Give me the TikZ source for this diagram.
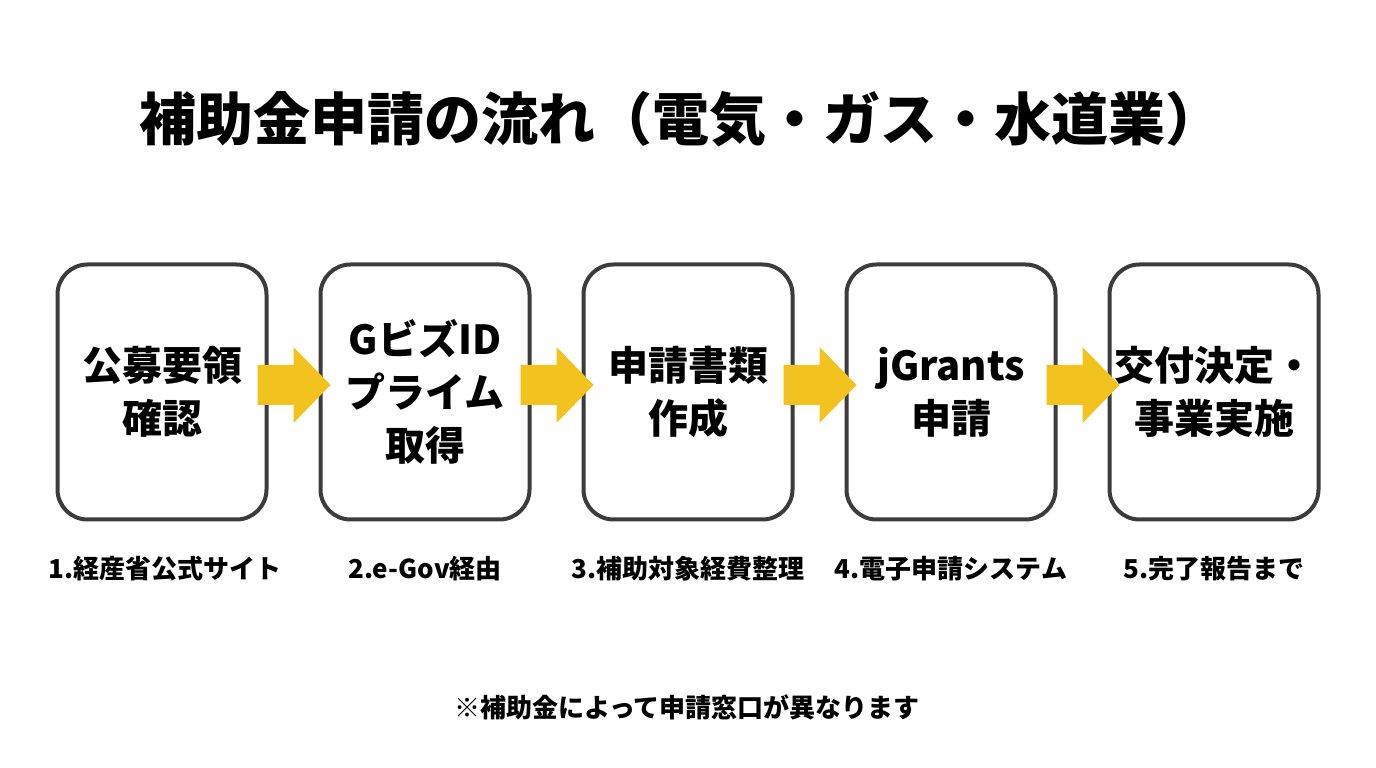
\documentclass[tikz,border=0pt]{standalone}
\usepackage{fontspec}
\setmainfont{Noto Sans CJK JP}
\usepackage{tikz}
\usetikzlibrary{positioning, calc}
\definecolor{flowgold}{RGB}{242,195,30}
\definecolor{boxgray}{RGB}{60,60,60}

\begin{document}
\begin{tikzpicture}[x=1pt, y=1pt,
    flowbox/.style={
      rectangle, draw=boxgray, fill=white, line width=4pt,
      rounded corners=30pt, minimum width=209pt, minimum height=255pt,
      outer sep=0pt, inner sep=2pt, align=center,
      font=\fontsize{40}{53}\selectfont\bfseries
    },
    stepnote/.style={font=\fontsize{26}{30}\selectfont\bfseries},
    flowarrow/.style={fill=flowgold},
  ]
  \useasboundingbox (0,0) rectangle (1376,768);

  \node[font=\fontsize{57}{63}\selectfont\bfseries] (title) at (681,649)
    {補助金申請の流れ（電気・ガス・水道業）};

  \node[flowbox] (s1) at (162,376) {公募要領\\確認};
  \node[flowbox, right=54pt of s1] (s2) {GビズID\\プライム\\取得};
  \node[flowbox, right=54pt of s2] (s3) {申請書類\\作成};
  \node[flowbox, right=54pt of s3] (s4) {jGrants\\申請};
  \node[flowbox, right=54pt of s4] (s5) {交付決定・\\事業実施};

  \node[stepnote] (n1) at ($(s1.south)+(3,-49)$) {1.経産省公式サイト};
  \node[stepnote] (n2) at ($(s2.south)+(0,-49)$) {2.e-Gov経由};
  \node[stepnote] (n3) at ($(s3.south)+(0,-49)$) {3.補助対象経費整理};
  \node[stepnote] (n4) at ($(s4.south)+(0,-49)$) {4.電子申請システム};
  \node[stepnote] (n5) at ($(s5.south)+(0,-49)$) {5.完了報告まで};

  \node[stepnote] (foot) at (687,61) {※補助金によって申請窓口が異なります};

  % block arrows between the steps
  \foreach \a/\b in {s1/s2, s2/s3, s3/s4, s4/s5} {
    \path ($(\a.east)!0.5!(\b.west)+(0,7)$) coordinate (m);
    \fill[flowarrow] ($(m)+(-36,20)$) -- ($(m)+(0,20)$) -- ($(m)+(0,38)$)
      -- ($(m)+(37,0)$) -- ($(m)+(0,-38)$) -- ($(m)+(0,-20)$)
      -- ($(m)+(-36,-20)$) -- cycle;
  }
\end{tikzpicture}
\end{document}
